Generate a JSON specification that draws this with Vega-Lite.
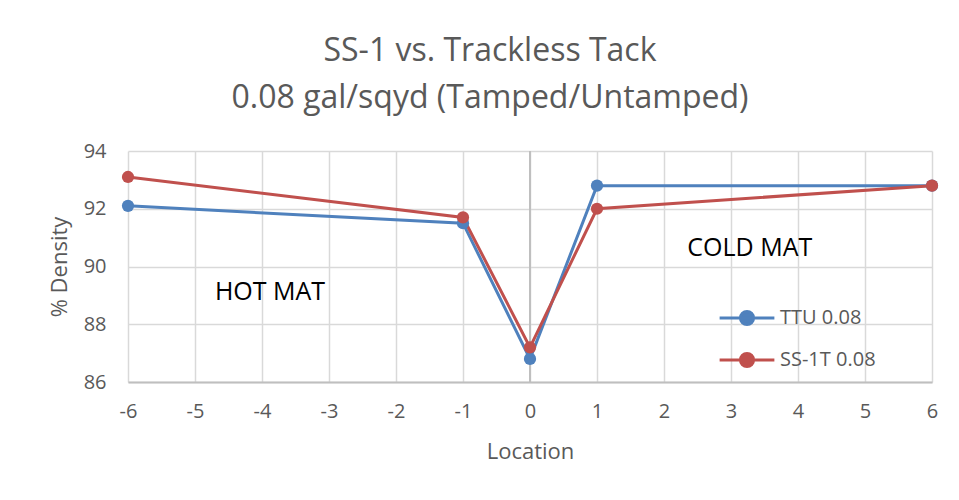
{
  "$schema": "https://vega.github.io/schema/vega-lite/v6.json",
  "autosize": {"type": "none"},
  "width": 804,
  "height": 231,
  "padding": {"left": 128, "top": 151, "right": 27, "bottom": 118},
  "background": "white",
  "title": {
    "text": ["SS-1 vs. Trackless Tack", "0.08 gal/sqyd (Tamped/Untamped)"],
    "anchor": "middle",
    "dx": -40,
    "offset": 26,
    "font": "Open Sans",
    "fontSize": 32,
    "fontWeight": "normal",
    "color": "#595959",
    "lineHeight": 47
  },
  "config": {
    "view": {"stroke": null},
    "axis": {
      "labelFont": "Open Sans",
      "titleFont": "Open Sans",
      "labelColor": "#595959",
      "titleColor": "#595959",
      "labelFontSize": 20,
      "titleFontSize": 22,
      "titleFontWeight": "normal",
      "gridColor": "#d9d9d9",
      "gridWidth": 1.5,
      "ticks": false
    }
  },
  "datasets": {
    "series": [
      {"series": "TTU 0.08", "location": -6, "density": 92.1},
      {"series": "TTU 0.08", "location": -1, "density": 91.5},
      {"series": "TTU 0.08", "location": 0, "density": 86.8},
      {"series": "TTU 0.08", "location": 1, "density": 92.8},
      {"series": "TTU 0.08", "location": 6, "density": 92.8},
      {"series": "SS-1T 0.08", "location": -6, "density": 93.1},
      {"series": "SS-1T 0.08", "location": -1, "density": 91.7},
      {"series": "SS-1T 0.08", "location": 0, "density": 87.2},
      {"series": "SS-1T 0.08", "location": 1, "density": 92.0},
      {"series": "SS-1T 0.08", "location": 6, "density": 92.8}
    ],
    "notes": [
      {"label": "HOT MAT", "location": -3.88, "density": 89.1},
      {"label": "COLD MAT", "location": 3.28, "density": 90.64}
    ],
    "zero": [{"location": 0}]
  },
  "layer": [
    {
      "data": {"name": "zero"},
      "mark": {"type": "rule", "color": "#bfbfbf", "strokeWidth": 2},
      "encoding": {
        "x": {"field": "location", "type": "quantitative", "scale": {"domain": [-6, 6], "nice": false, "zero": false, "padding": 0}}
      }
    },
    {
      "data": {"name": "series"},
      "mark": {"type": "line", "strokeWidth": 3, "point": {"size": 150, "filled": true, "opacity": 1}},
      "encoding": {
        "x": {
          "field": "location", "type": "quantitative",
          "scale": {"domain": [-6, 6], "nice": false, "zero": false, "padding": 0},
          "axis": {
            "title": "Location",
            "values": [-6, -5, -4, -3, -2, -1, 0, 1, 2, 3, 4, 5, 6],
            "labelExpr": "'' + datum.value",
            "labelFlush": false,
            "labelPadding": 19,
            "titlePadding": 20,
            "domainColor": "#bfbfbf",
            "domainWidth": 2
          }
        },
        "y": {
          "field": "density", "type": "quantitative",
          "scale": {"domain": [86, 94], "nice": false, "zero": false, "padding": 0},
          "axis": {
            "title": "% Density",
            "values": [86, 88, 90, 92, 94],
            "format": "d",
            "labelPadding": 22,
            "titlePadding": 12,
            "domain": false
          }
        },
        "color": {
          "field": "series", "type": "nominal",
          "sort": ["TTU 0.08", "SS-1T 0.08"],
          "scale": {"domain": ["TTU 0.08", "SS-1T 0.08"], "range": ["#4f81bd", "#c0504d"]},
          "legend": {
            "title": null,
            "orient": "none",
            "legendX": 590,
            "legendY": 138,
            "labelFont": "Open Sans",
            "labelFontSize": 20,
            "labelColor": "#595959",
            "labelOffset": 4,
            "rowPadding": -6,
            "symbolType": "M -1 0 L 1 0 M 0.24 0 A 0.24 0.24 0 1 1 -0.24 0 A 0.24 0.24 0 1 1 0.24 0",
            "symbolSize": 3000,
            "symbolStrokeWidth": 3,
            "symbolOpacity": 1
          }
        },
        "order": {"field": "series", "sort": "descending"}
      }
    },
    {
      "data": {"name": "notes"},
      "mark": {"type": "text", "font": "Open Sans", "fontSize": 25, "color": "#000000", "align": "center", "baseline": "middle"},
      "encoding": {
        "x": {"field": "location", "type": "quantitative", "scale": {"domain": [-6, 6], "nice": false, "zero": false, "padding": 0}},
        "y": {"field": "density", "type": "quantitative", "scale": {"domain": [86, 94], "nice": false, "zero": false, "padding": 0}},
        "text": {"field": "label"}
      }
    }
  ]
}
